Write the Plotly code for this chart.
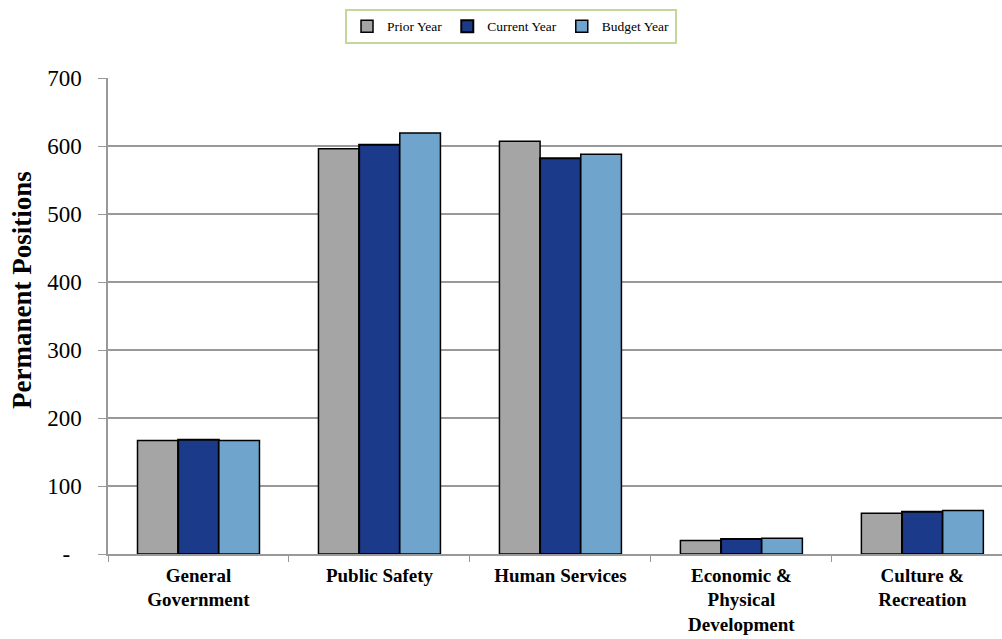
import plotly.graph_objects as go

categories = ["General<br>Government", "Public Safety", "Human Services",
              "Economic &<br>Physical<br>Development", "Culture &<br>Recreation"]
prior_year = [167, 596, 607, 20, 60]
current_year = [168, 602, 582, 22, 62]
budget_year = [167, 619, 588, 23, 64]
series_names = ["Prior Year", "Current Year", "Budget Year"]
y_tickvals = [0, 100, 200, 300, 400, 500, 600, 700]
y_ticktext = ["-\u00a0\u00a0", "100", "200", "300", "400", "500", "600", "700"]
y_title = "Permanent Positions"

colors = ["#a5a5a5", "#1b3a8a", "#6fa5cd"]
serif = "Liberation Serif, DejaVu Serif, serif"

fig = go.Figure()
for name, vals, col, lw in zip(series_names, [prior_year, current_year, budget_year], colors, [1.5, 2, 1.5]):
    fig.add_trace(go.Bar(
        name=name, x=categories, y=vals,
        marker=dict(color=col, line=dict(color="#000000", width=lw)),
    ))

fig.update_layout(
    width=1002, height=639,
    paper_bgcolor="white", plot_bgcolor="white",
    margin=dict(l=108, r=0, t=78, b=85, autoexpand=False),
    barmode="group", bargap=0.326, bargroupgap=0,
    font=dict(family=serif, color="#000000"),
    legend=dict(
        orientation="h", xref="container", x=0.51, xanchor="center",
        yref="container", y=0.986, yanchor="top",
        bordercolor="#c3d69b", borderwidth=2, bgcolor="white",
        font=dict(size=13.5, family=serif), traceorder="normal",
        itemwidth=30,
    ),
    showlegend=True,
    annotations=[dict(
        text="<b>" + y_title + "</b>", textangle=-90,
        xref="paper", yref="paper", x=-0.0962, y=0.5546,
        xanchor="center", yanchor="middle", showarrow=False,
        font=dict(size=27, family=serif, color="#000000"),
    )],
)
fig.update_xaxes(
    range=[-0.5, 4.44],
    showline=True, linecolor="#999999", linewidth=1.5,
    ticks="outside", tickson="boundaries", ticklen=6, tickcolor="#999999",
    tickfont=dict(size=19, family=serif, color="#000000", weight="bold"),
    ticklabelstandoff=3,
    showgrid=False,
)
fig.update_yaxes(
    range=[0, 700],
    tickvals=y_tickvals, ticktext=y_ticktext,
    showline=True, linecolor="#999999", linewidth=1.5,
    ticks="outside", ticklen=8, tickcolor="#999999",
    tickfont=dict(size=23, family=serif, color="#000000"),
    ticklabelstandoff=12,
    showgrid=True, gridcolor="#999999", gridwidth=1.5,
    zeroline=False,
)

fig.write_html("out.html")
